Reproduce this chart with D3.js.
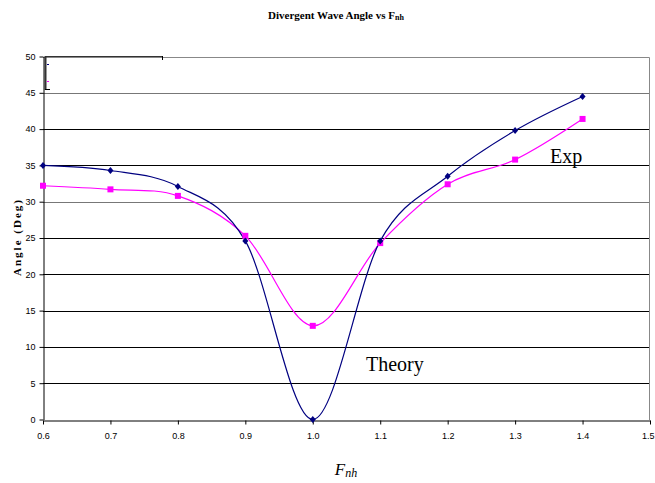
<!DOCTYPE html>
<html>
<head>
<meta charset="utf-8">
<script src="https://cdn.jsdelivr.net/npm/d3@7"></script>
<style>
  body { margin: 0; background: #fff; }
  svg { display: block; }
</style>
</head>
<body>
<svg id="chart" width="655" height="483"></svg>
<script>
// chart data
const fnh = [0.6, 0.7, 0.8, 0.9, 1.0, 1.1, 1.2, 1.3, 1.4];
const theory = [35.0, 34.3, 32.1, 24.6, 0.0, 24.6, 33.5, 39.8, 44.5];
const exp = [32.2, 31.7, 30.8, 25.3, 12.9, 24.3, 32.4, 35.8, 41.4];
const xTicks = [0.6, 0.7, 0.8, 0.9, 1.0, 1.1, 1.2, 1.3, 1.4, 1.5];
const yTicks = [0, 5, 10, 15, 20, 25, 30, 35, 40, 45, 50];

const svg = d3.select("#chart");

const x = d3.scaleLinear().domain([0.6, 1.5]).range([43, 650]);
const y = d3.scaleLinear().domain([0, 50]).range([419.5, 56.5]);

// gridlines
svg.append("g")
  .selectAll("line")
  .data(yTicks.filter((d) => d > 0 && d < 50))
  .join("line")
  .attr("x1", x(0.6))
  .attr("x2", x(1.5))
  .attr("y1", (d) => Math.round(y(d)) + 0.5)
  .attr("y2", (d) => Math.round(y(d)) + 0.5)
  .attr("stroke", (d) => (d === 30 || d === 45 ? "#777" : "#000"))
  .attr("stroke-width", 1);

// plot frame (top and right)
svg.append("path")
  .attr("d", `M${x(0.6)},${Math.round(y(50)) + 0.5} H${Math.round(x(1.5)) - 0.5} V${Math.round(y(0))}`)
  .attr("fill", "none")
  .attr("stroke", "#888")
  .attr("stroke-width", 1);

// axes
const xAxis = svg.append("g")
  .attr("transform", `translate(0,${Math.round(y(0)) + 0.5})`)
  .call(d3.axisBottom(x).tickValues(xTicks).tickSize(4).tickSizeOuter(0)
    .tickFormat(d3.format(".1f")));
const yAxis = svg.append("g")
  .attr("transform", `translate(${Math.round(x(0.6)) + 0.5},0)`)
  .call(d3.axisLeft(y).tickValues(yTicks).tickSize(4).tickSizeOuter(0));

[xAxis, yAxis].forEach((a) => {
  a.select(".domain").attr("stroke", "#000");
  a.selectAll(".tick line").attr("stroke", "#000");
  a.selectAll("text")
    .attr("fill", "#000")
    .style("font-family", "'Liberation Sans', Arial, sans-serif")
    .style("font-size", "9px");
});
xAxis.selectAll("text").attr("dy", "1.3em");
xAxis.selectAll(".tick").filter((d) => d === 1.5).select("text")
  .attr("text-anchor", "end").attr("dx", "4");
yAxis.selectAll("text").attr("dx", "-0.1em");

// legend box remnants (top left)
const lg = svg.append("g");
lg.append("line").attr("x1", 45).attr("x2", 162).attr("y1", 56.5).attr("y2", 56.5)
  .attr("stroke", "#333");
lg.append("line").attr("x1", 45.5).attr("x2", 45.5).attr("y1", 56).attr("y2", 90)
  .attr("stroke", "#333").attr("stroke-width", 2);
lg.append("line").attr("x1", 45).attr("x2", 50).attr("y1", 89.5).attr("y2", 89.5)
  .attr("stroke", "#000");
lg.append("line").attr("x1", 162.5).attr("x2", 162.5).attr("y1", 56).attr("y2", 60)
  .attr("stroke", "#000");
lg.append("line").attr("x1", 47).attr("x2", 49).attr("y1", 64.5).attr("y2", 64.5)
  .attr("stroke", "#000080");
lg.append("line").attr("x1", 47).attr("x2", 49).attr("y1", 81.5).attr("y2", 81.5)
  .attr("stroke", "#ff00ff");

// series
const curve = d3.curveCardinal.tension(0);
const line = (vals) => d3.line()
  .x((d, i) => x(fnh[i]))
  .y((d) => y(d))
  .curve(curve)(vals);

svg.append("path").attr("d", line(exp))
  .attr("fill", "none").attr("stroke", "#ff00ff").attr("stroke-width", 1.2);
svg.append("path").attr("d", line(theory))
  .attr("fill", "none").attr("stroke", "#000080").attr("stroke-width", 1.2);

svg.append("g")
  .selectAll("rect")
  .data(exp)
  .join("rect")
  .attr("x", (d, i) => x(fnh[i]) - 3)
  .attr("y", (d) => y(d) - 3)
  .attr("width", 6)
  .attr("height", 6)
  .attr("fill", "#ff00ff");

svg.append("g")
  .selectAll("path")
  .data(theory)
  .join("path")
  .attr("d", (d, i) => {
    const cx = x(fnh[i]), cy = y(d);
    return `M${cx},${cy - 3.5} L${cx + 3},${cy} L${cx},${cy + 3.5} L${cx - 3},${cy} Z`;
  })
  .attr("fill", "#000080");

// labels
const serif = "'Liberation Serif', 'Times New Roman', serif";
const title = svg.append("text")
  .attr("x", 336)
  .attr("y", 19)
  .attr("text-anchor", "middle")
  .style("font-family", serif)
  .style("font-weight", "bold")
  .style("font-size", "11px");
title.append("tspan").text("Divergent Wave Angle vs F");
title.append("tspan").attr("font-size", "8px").attr("dy", "1").text("nh");

svg.append("text")
  .attr("transform", "translate(21,237) rotate(-90)")
  .attr("text-anchor", "middle")
  .style("font-family", serif)
  .style("font-weight", "bold")
  .style("font-size", "11px")
  .style("letter-spacing", "2px")
  .text("Angle (Deg)");

const xl = svg.append("text")
  .attr("x", 346)
  .attr("y", 475)
  .attr("text-anchor", "middle")
  .style("font-family", serif)
  .style("font-style", "italic")
  .style("font-size", "17px");
xl.append("tspan").text("F");
xl.append("tspan").attr("font-size", "12px").attr("dy", "2").text("nh");

svg.append("text")
  .attr("x", 550)
  .attr("y", 163)
  .style("font-family", serif)
  .style("font-size", "20px")
  .text("Exp");

svg.append("text")
  .attr("x", 366)
  .attr("y", 371)
  .style("font-family", serif)
  .style("font-size", "20px")
  .text("Theory");
</script>
</body>
</html>
